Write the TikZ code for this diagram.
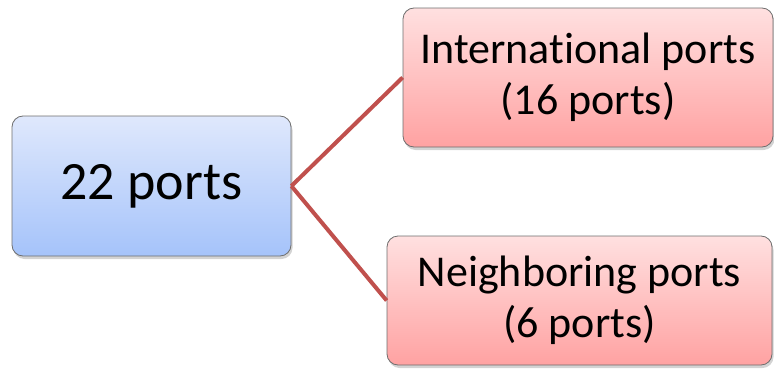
\documentclass[tikz,border=0pt]{standalone}
\usepackage{fontspec}
\setmainfont{Carlito}[Ligatures=NoCommon]
\usetikzlibrary{shadows}
\definecolor{bluetop}{HTML}{DFE8FC}
\definecolor{bluebottom}{HTML}{A5C3FA}
\definecolor{redtop}{HTML}{FFE0E0}
\definecolor{redbottom}{HTML}{FFA2A2}
\definecolor{boxedge}{HTML}{6E6E6E}
\definecolor{linkred}{HTML}{C0504D}

\begin{document}
\begin{tikzpicture}[x=1pt,y=1pt]
    \tikzstyle{every node}=[rounded corners=11pt, draw=boxedge, line width=0.8pt, align=center, inner sep=0pt,
      drop shadow={opacity=0.35, shadow xshift=1.5pt, shadow yshift=-3pt}];
    \tikzstyle{rootbox}=[top color=bluetop, bottom color=bluebottom, font=\fontsize{54}{64}\selectfont];
    \tikzstyle{leafbox}=[top color=redtop, bottom color=redbottom, font=\fontsize{44}{51}\selectfont];
    \tikzstyle{link}=[linkred, line width=4pt];
    \useasboundingbox (0,0) rectangle (774,368);
    % boxes
    \node[rootbox, minimum width=279pt, minimum height=140pt] (root) at (151.5,182) {22 ports};
    \node[leafbox, minimum width=370pt, minimum height=139pt] (intl) at (588,290.5) {International ports\\(16 ports)};
    \node[leafbox, minimum width=385pt, minimum height=129pt] (neigh) at (579.5,67.5) {Neighboring ports\\(6 ports)};
    % connectors
    \draw[link] (root.east) -- (intl.west);
    \draw[link] (root.east) -- (neigh.west);
  \end{tikzpicture}
\end{document}
